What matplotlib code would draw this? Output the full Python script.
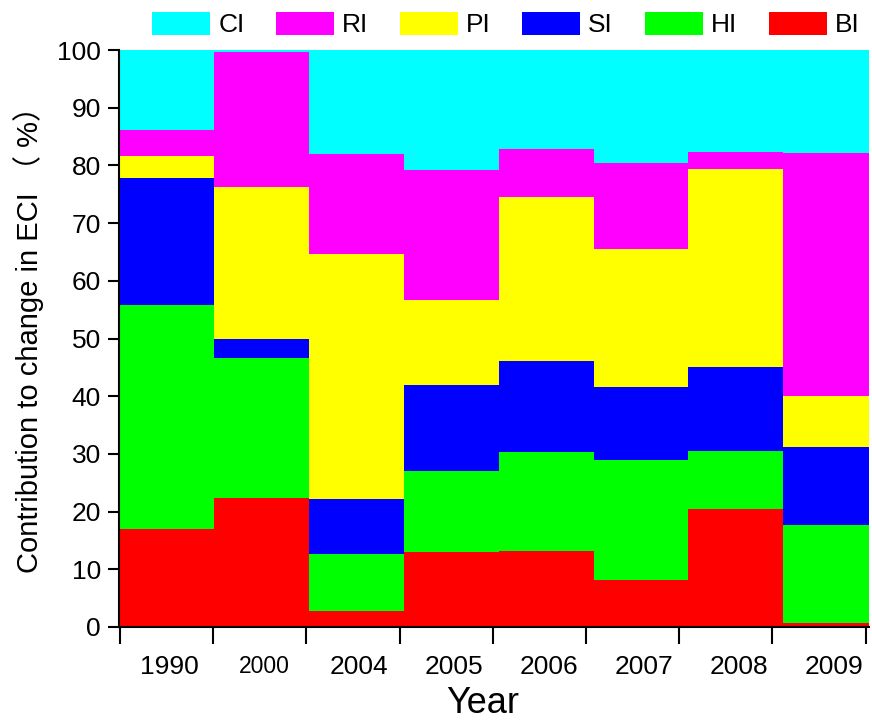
import numpy as np
import matplotlib
matplotlib.use("Agg")
import matplotlib.pyplot as plt

plt.rcParams['font.family'] = ['Liberation Sans', 'Noto Sans CJK SC', 'DejaVu Sans']

years = ["1990", "2000", "2004", "2005", "2006", "2007", "2008", "2009"]

# contribution of each factor (%), stacked from the bottom up
BI = [17.0, 22.3, 2.7, 13.0, 13.2, 8.2, 20.4, 0.7]
HI = [38.8, 24.4, 10.0, 14.0, 17.2, 20.8, 10.1, 16.9]
SI = [22.0, 3.2, 9.4, 15.0, 15.7, 12.6, 14.6, 13.6]
PI = [3.9, 26.4, 42.6, 14.7, 28.5, 23.9, 34.2, 8.9]
RI = [4.5, 23.3, 17.3, 22.5, 8.3, 15.0, 3.0, 42.0]
CI = [13.8, 0.4, 18.0, 20.8, 17.1, 19.5, 17.7, 17.9]

series = [("BI", BI, "#ff0000"), ("HI", HI, "#00ff00"), ("SI", SI, "#0000ff"),
          ("PI", PI, "#ffff00"), ("RI", RI, "#ff00ff"), ("CI", CI, "#00ffff")]

fig = plt.figure(figsize=(8.72, 7.2), dpi=100)
ax = fig.add_axes([119/872, 93/720, 750/872, 577/720])

x = np.arange(len(years))
bottom = np.zeros(len(years))
handles = {}
for name, vals, col in series:
    h = ax.bar(x, vals, width=1.0, bottom=bottom, color=col, linewidth=0, label=name)
    handles[name] = h
    bottom += np.array(vals)

xmin, xmax = -0.5, 7.403
ax.set_xlim(xmin, xmax)
ax.set_ylim(0, 100)

for s in ["top", "right"]:
    ax.spines[s].set_visible(False)
for s in ["left", "bottom"]:
    ax.spines[s].set_linewidth(1.5)

ax.set_yticks(np.arange(0, 101, 10))
ax.tick_params(axis="y", direction="out", length=8, width=1.5, labelsize=19, pad=5)

# tick marks are evenly spaced along the axis, labels sit under the bars
ax.set_xticks(np.linspace(xmin + 0.01, xmax - 0.035, 9))
ax.set_xticklabels([])
ax.tick_params(axis="x", which="major", direction="out", length=12, width=1.5)
ax.set_xticks(x + 0.03, minor=True)
ax.set_xticklabels(years, minor=True)
ax.tick_params(axis="x", which="minor", length=0, labelsize=19, pad=20)
for lab in ax.get_xticklabels(minor=True):
    if lab.get_text() == "2000":
        lab.set_fontsize(16.5)

ax.set_xlabel("Year", fontsize=26, va="center")
ax.xaxis.set_label_coords(0.485, -0.132)
ax.set_ylabel("Contribution to change in ECI （ %）", fontsize=21, va="center")
ax.yaxis.set_label_coords(-0.121, 0.51)

order = ["CI", "RI", "PI", "SI", "HI", "BI"]
fig.legend([handles[n] for n in order], order, loc="upper center", ncol=6,
           bbox_to_anchor=(0.58, 1.017), frameon=False, fontsize=19,
           handlelength=2.2, handleheight=1.0, handletextpad=0.3, columnspacing=1.2)

fig.savefig("out.png", dpi=100)
